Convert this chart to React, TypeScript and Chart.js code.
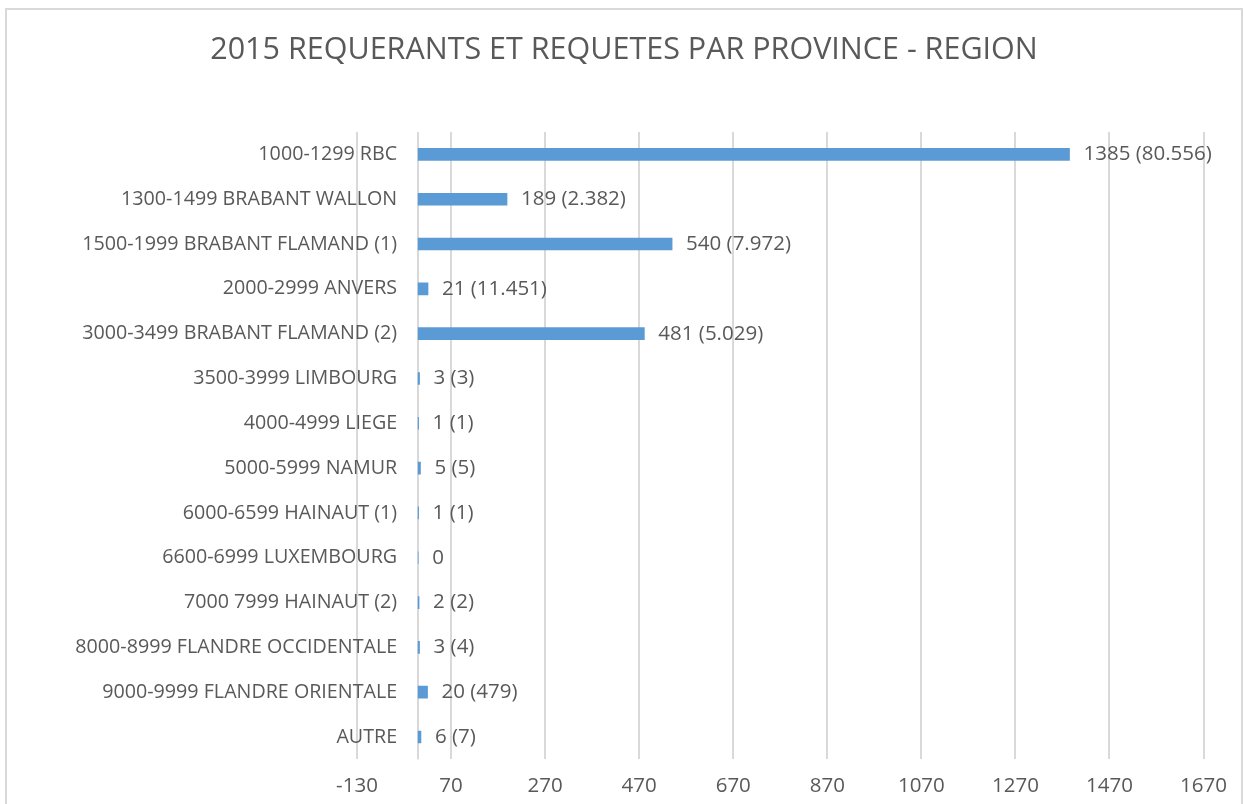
import React, { useEffect, useRef } from "react";
import { Chart, registerables } from "chart.js";

Chart.register(...registerables);

const TITLE = "2015 REQUERANTS ET REQUETES PAR PROVINCE - REGION";

const CATEGORIES = [
  "1000-1299 RBC",
  "1300-1499 BRABANT WALLON",
  "1500-1999 BRABANT FLAMAND (1)",
  "2000-2999 ANVERS",
  "3000-3499 BRABANT FLAMAND (2)",
  "3500-3999 LIMBOURG",
  "4000-4999 LIEGE",
  "5000-5999 NAMUR",
  "6000-6599 HAINAUT (1)",
  "6600-6999 LUXEMBOURG",
  "7000 7999 HAINAUT (2)",
  "8000-8999 FLANDRE OCCIDENTALE",
  "9000-9999 FLANDRE ORIENTALE",
  "AUTRE",
];

const REQUERANTS = [1385, 189, 540, 21, 481, 3, 1, 5, 1, 0, 2, 3, 20, 6];

const REQUETES: (string | null)[] = [
  "80.556", "2.382", "7.972", "11.451", "5.029", "3", "1", "5", "1", null, "2", "4", "479", "7",
];

const X_TICKS = [-130, 70, 270, 470, 670, 870, 1070, 1270, 1470, 1670];

const FONT = "'Open Sans', sans-serif";
const TEXT = "#595959";
const GRID = "#d9d9d9";
const BAR = "#5b9bd5";

const overlayPlugin = {
  id: "overlay",
  beforeDatasetsDraw(chart: any) {
    const { ctx, chartArea, scales } = chart;
    const x0 = Math.round(scales.x.getPixelForValue(0));
    ctx.save();
    ctx.strokeStyle = GRID;
    ctx.lineWidth = 2;
    ctx.beginPath();
    ctx.moveTo(x0, chartArea.top);
    ctx.lineTo(x0, chartArea.bottom);
    ctx.stroke();
    ctx.restore();
  },
  afterDatasetsDraw(chart: any) {
    const { ctx, scales, width } = chart;
    const x0 = scales.x.getPixelForValue(0);
    ctx.save();
    ctx.fillStyle = TEXT;
    ctx.textBaseline = "middle";
    // title
    ctx.textAlign = "center";
    ctx.font = `30.5px ${FONT}`;
    ctx.fillText(TITLE, width / 2, 40);
    // category labels
    ctx.font = `19.7px ${FONT}`;
    ctx.textAlign = "right";
    CATEGORIES.forEach((c, i) => {
      ctx.fillText(c, x0 - 21, scales.y.getPixelForValue(i));
    });
    // data labels
    ctx.font = `20.5px ${FONT}`;
    ctx.textAlign = "left";
    REQUERANTS.forEach((v, i) => {
      const r = REQUETES[i];
      const label = r === null ? `${v}` : `${v} (${r})`;
      ctx.fillText(label, scales.x.getPixelForValue(v) + 14, scales.y.getPixelForValue(i));
    });
    ctx.restore();
  },
};

export default function App() {
  const ref = useRef<HTMLCanvasElement>(null);

  useEffect(() => {
    if (!ref.current) return;
    const chart = new Chart(ref.current, {
      type: "bar",
      data: {
        labels: CATEGORIES,
        datasets: [
          {
            data: REQUERANTS,
            backgroundColor: BAR,
            barThickness: 12,
          },
        ],
      },
      options: {
        indexAxis: "y",
        animation: false,
        responsive: false,
        layout: { padding: { left: 350, right: 37, top: 122, bottom: 10 } },
        plugins: {
          legend: { display: false },
          tooltip: { enabled: false },
          title: { display: false },
        },
        scales: {
          x: {
            type: "linear",
            min: -130,
            max: 1670,
            afterBuildTicks: (scale: any) => {
              scale.ticks = X_TICKS.map((v) => ({ value: v }));
            },
            grid: { color: GRID, lineWidth: 2, drawTicks: false },
            border: { display: false },
            ticks: {
              color: TEXT,
              font: { family: FONT, size: 20.5 },
              padding: 14,
              maxRotation: 0,
              callback: (v: any) => `${v}`,
            },
          },
          y: {
            type: "category",
            display: false,
            grid: { display: false },
          },
        },
      },
      plugins: [overlayPlugin],
    } as any);
    return () => chart.destroy();
  }, []);

  return (
    <div
      style={{
        position: "fixed",
        left: 5,
        top: 8,
        width: 1238,
        height: 830,
        border: "2px solid #d9d9d9",
        boxSizing: "border-box",
        background: "#fff",
      }}
    >
      <canvas ref={ref} width={1234} height={812} style={{ display: "block" }} />
    </div>
  );
}
